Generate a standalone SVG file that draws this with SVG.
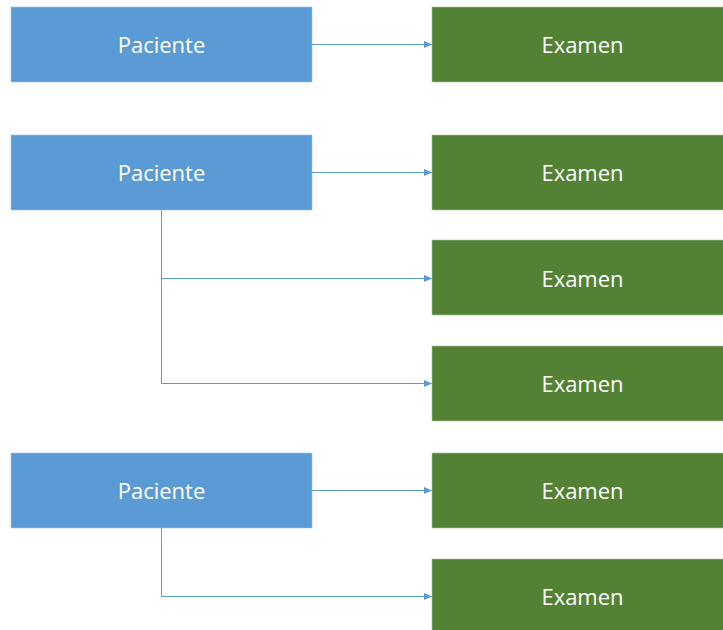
<svg xmlns="http://www.w3.org/2000/svg" width="723" height="630" viewBox="0 0 723 630">
<style>
.p{fill:#5B9BD5;stroke:#9DC3E6;stroke-width:0.6}
.e{fill:#548235;stroke:#A9C49A;stroke-width:0.6}
.t{fill:#fff;font-family:"Open Sans","Liberation Sans",sans-serif;font-size:22px;text-anchor:middle;dominant-baseline:central}
.c{fill:none;stroke:#5B9BD5;stroke-width:1}
</style>
<defs>
<marker id="a" markerWidth="8" markerHeight="8" refX="8" refY="4" orient="auto" markerUnits="userSpaceOnUse">
<path d="M0,0.5 L8,4 L0,7.5 Z" fill="#5B9BD5"/>
</marker>
</defs>
<rect width="723" height="630" fill="#fff"/>
<g id="connectors">
<path class="c" d="M312,44.5 H432" marker-end="url(#a)"/>
<path class="c" d="M312,172.5 H432" marker-end="url(#a)"/>
<path class="c" d="M161.5,210 V278.5 H432" marker-end="url(#a)"/>
<path class="c" d="M161.5,278 V383.5 H432" marker-end="url(#a)"/>
<path class="c" d="M312,490.5 H432" marker-end="url(#a)"/>
<path class="c" d="M161.5,528 V596.5 H432" marker-end="url(#a)"/>
</g>
<g id="paciente1"><rect class="p" x="11" y="7" width="301" height="75"/><text class="t" x="161.5" y="44">Paciente</text></g>
<g id="paciente2"><rect class="p" x="11" y="135" width="301" height="75"/><text class="t" x="161.5" y="172">Paciente</text></g>
<g id="paciente3"><rect class="p" x="11" y="453" width="301" height="75"/><text class="t" x="161.5" y="490">Paciente</text></g>
<g id="examen1"><rect class="e" x="432" y="7" width="300" height="75"/><text class="t" x="582.5" y="44">Examen</text></g>
<g id="examen2"><rect class="e" x="432" y="135" width="300" height="75"/><text class="t" x="582.5" y="172">Examen</text></g>
<g id="examen3"><rect class="e" x="432" y="240" width="300" height="75"/><text class="t" x="582.5" y="277.5">Examen</text></g>
<g id="examen4"><rect class="e" x="432" y="346" width="300" height="75"/><text class="t" x="582.5" y="383">Examen</text></g>
<g id="examen5"><rect class="e" x="432" y="453" width="300" height="75"/><text class="t" x="582.5" y="490">Examen</text></g>
<g id="examen6"><rect class="e" x="432" y="559" width="300" height="75"/><text class="t" x="582.5" y="596">Examen</text></g>
</svg>
